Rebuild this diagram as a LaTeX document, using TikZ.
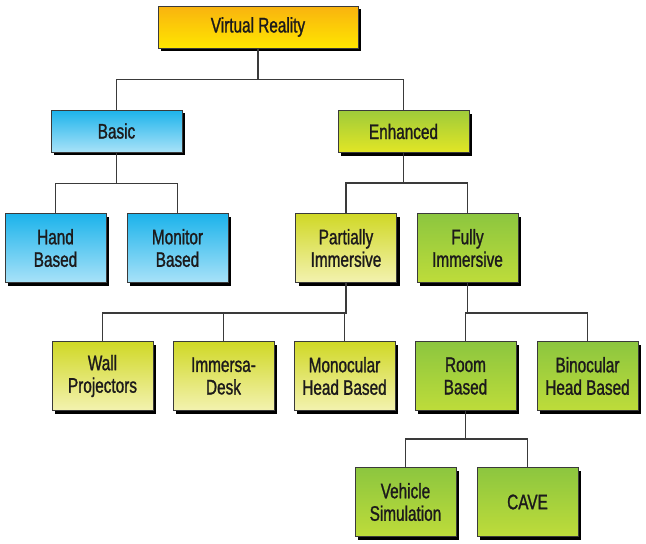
\documentclass[tikz,border=0pt]{standalone}
\usepackage{fontspec}
\setmainfont[FakeStretch=0.73,FakeBold=1.2]{Liberation Sans}
\usetikzlibrary{shadows}
\definecolor{vrtop}{HTML}{F9B30F}
\definecolor{vrbot}{HTML}{FFE600}
\definecolor{bltop}{HTML}{1CB3EB}
\definecolor{blbot}{HTML}{A8E2F8}
\definecolor{entop}{HTML}{9FCB3A}
\definecolor{enbot}{HTML}{E2E625}
\definecolor{yltop}{HTML}{D0D826}
\definecolor{ylbot}{HTML}{F3F2B0}
\definecolor{grtop}{HTML}{8CC63F}
\definecolor{grbot}{HTML}{BEDC3A}
\definecolor{txt}{HTML}{1C1A1B}
\definecolor{ln}{HTML}{3A3A3A}
\tikzset{
  vbox/.style={draw=ln, line width=0.8pt, rectangle, align=center, text=txt,
    font=\fontsize{21}{22.5}\selectfont, inner sep=0pt,
    drop shadow={shadow xshift=3pt, shadow yshift=-3pt, fill=black, opacity=1}},
  wide/.style={vbox, minimum width=200pt, minimum height=42pt},
  mid/.style={vbox, minimum width=131pt, minimum height=42pt},
  small/.style={vbox, minimum width=101pt, minimum height=69pt},
  orange/.style={top color=vrtop, middle color=vrtop, bottom color=vrbot},
  blue/.style={top color=bltop, middle color=bltop, bottom color=blbot},
  enh/.style={top color=entop, middle color=entop!70!enbot, bottom color=enbot},
  yel/.style={top color=yltop, middle color=yltop, bottom color=ylbot},
  grn/.style={top color=grtop, middle color=grtop, bottom color=grbot},
  conn/.style={draw=ln, line width=1.2pt}
}
\begin{document}
\begin{tikzpicture}[x=1pt,y=-1pt]
\useasboundingbox (0,0) rectangle (646,544);
\node[wide,orange] (vr) at (258,27) {Virtual Reality};
\node[mid,blue] (basic) at (116.5,131) {Basic};
\node[mid,enh] (enh) at (403.5,131.5) {Enhanced};
\node[small,blue] (hand) at (55.5,248) {Hand\\Based};
\node[small,blue] (mon) at (177.5,248) {Monitor\\Based};
\node[small,yel] (part) at (346,248) {Partially\\Immersive};
\node[small,grn] (full) at (467.5,248) {Fully\\Immersive};
\node[small,yel] (wall) at (102.5,376) {Wall\\Projectors};
\node[small,yel] (desk) at (223.5,376) {Immersa-\\Desk};
\node[small,yel] (mono) at (344.5,376) {Monocular\\Head Based};
\node[small,grn] (room) at (465.5,376) {Room\\Based};
\node[small,grn] (bino) at (587.5,376) {Binocular\\Head Based};
\node[small,grn] (veh) at (405.5,502) {Vehicle\\Simulation};
\node[small,grn] (cave) at (527.5,502) {CAVE};
\draw[conn] (vr.south) -- ++(0,31) -| (basic.north);
\draw[conn] (vr.south) -- ++(0,31) -| (enh.north);
\draw[conn] (basic.south) -- ++(0,31) -| (hand.north);
\draw[conn] (basic.south) -- ++(0,31) -| (mon.north);
\draw[conn] (enh.south) -- ++(0,30) -| (part.north);
\draw[conn] (enh.south) -- ++(0,30) -| (full.north);
\draw[conn] (part.south) -- ++(0,30) -| (wall.north);
\draw[conn] (part.south) -- ++(0,30) -| (desk.north);
\draw[conn] (part.south) -- ++(0,30) -| (mono.north);
\draw[conn] (full.south) -- ++(0,30) -| (room.north);
\draw[conn] (full.south) -- ++(0,30) -| (bino.north);
\draw[conn] (room.south) -- ++(0,28) -| (veh.north);
\draw[conn] (room.south) -- ++(0,28) -| (cave.north);
\end{tikzpicture}
\end{document}
